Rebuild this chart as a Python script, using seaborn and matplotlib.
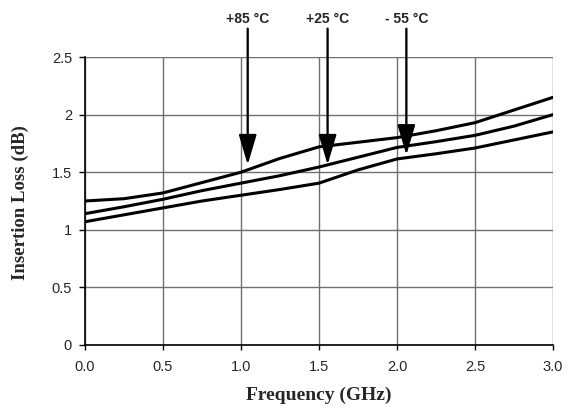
import pandas as pd
import matplotlib
matplotlib.use('Agg')
import matplotlib.pyplot as plt
import seaborn as sns

# Readings taken from the reference chart
freq = [0.0, 0.25, 0.5, 0.75, 1.0, 1.25, 1.5, 1.75, 2.0, 2.25, 2.5, 2.75, 3.0]
loss_85 = [1.25, 1.27, 1.32, 1.41, 1.50, 1.62, 1.72, 1.76, 1.80, 1.86, 1.93, 2.04, 2.15]
loss_25 = [1.14, 1.20, 1.265, 1.34, 1.405, 1.47, 1.545, 1.63, 1.715, 1.765, 1.82, 1.90, 2.00]
loss_m55 = [1.07, 1.13, 1.19, 1.25, 1.30, 1.35, 1.405, 1.52, 1.615, 1.66, 1.71, 1.78, 1.85]

arrow_labels = ['+85 °C', '+25 °C', '- 55 °C']
arrow_x = [1.043, 1.555, 2.06]
arrow_tip = [1.565, 1.565, 1.65]
arrow_top = 2.746

data = pd.DataFrame({
    'Frequency': freq * 3,
    'Loss': loss_85 + loss_25 + loss_m55,
    'Temp': ['+85'] * len(freq) + ['+25'] * len(freq) + ['-55'] * len(freq),
})

sns.set_style('white')
plt.rcParams['font.family'] = ['Liberation Sans', 'DejaVu Sans']

fig = plt.figure(figsize=(5.72, 4.09), dpi=100)
ax = fig.add_axes([0.1486, 0.1565, 0.8182, 0.7041])

sns.lineplot(data=data, x='Frequency', y='Loss', units='Temp', estimator=None,
             color='black', linewidth=2.2, ax=ax, zorder=3)

ax.set_xlim(0, 3)
ax.set_ylim(0, 2.5)
ax.set_xticks([0, 0.5, 1, 1.5, 2, 2.5, 3])
ax.set_xticklabels(['0.0', '0.5', '1.0', '1.5', '2.0', '2.5', '3.0'])
ax.set_yticks([0, 0.5, 1, 1.5, 2, 2.5])
ax.set_yticklabels(['0', '0.5', '1', '1.5', '2', '2.5'])
ax.grid(True, color='#707070', linewidth=1.0)
ax.tick_params(axis='both', labelsize=10.5, width=1, color='black',
               direction='out', bottom=True, left=True)
ax.tick_params(axis='x', length=3.6, pad=7)
ax.tick_params(axis='y', length=4.3, pad=5)
for s in ['top', 'right']:
    ax.spines[s].set_visible(False)
for s in ['left', 'bottom']:
    ax.spines[s].set_color('black')
    ax.spines[s].set_linewidth(1.2)

ax.set_xlabel('Frequency (GHz)', fontsize=14, fontweight='bold',
              family='Liberation Serif', va='center')
ax.set_ylabel('Insertion Loss (dB)', fontsize=13.5, fontweight='bold',
              family='Liberation Serif', va='center')
ax.xaxis.set_label_coords(0.5, -0.174)
ax.yaxis.set_label_coords(-0.139, 0.495)

for lab, xa, tip in zip(arrow_labels, arrow_x, arrow_tip):
    ax.annotate('', xy=(xa, tip), xytext=(xa, arrow_top),
                arrowprops=dict(arrowstyle='-|>,head_length=1.85,head_width=0.55',
                                color='black', linewidth=1.65,
                                shrinkA=0, shrinkB=0),
                annotation_clip=False, zorder=4)
    ax.text(xa, 2.834, lab, ha='center', va='center', fontsize=10,
            fontweight='bold')

fig.savefig('out.png', dpi=100)
